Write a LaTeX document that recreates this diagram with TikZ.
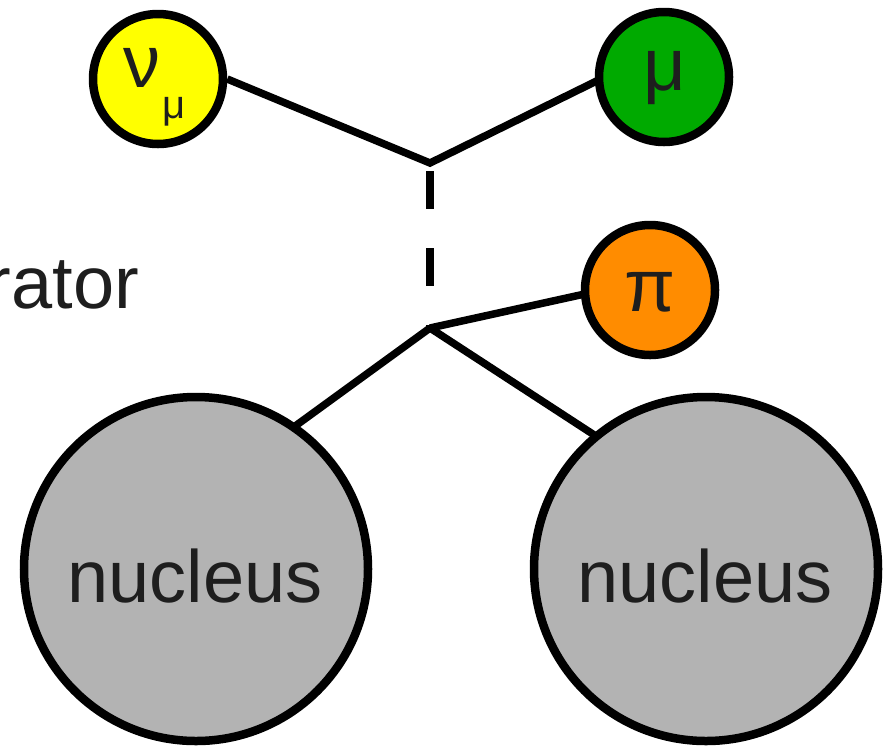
\documentclass[tikz,border=0pt]{standalone}
\usepackage{fontspec}
\setmainfont{Liberation Sans}
\usetikzlibrary{calc}
\pgfdeclarelayer{bg}
\pgfsetlayers{bg,main}
\definecolor{txt}{HTML}{1E1E1E}
\definecolor{nuyellow}{HTML}{FFFF00}
\definecolor{mugreen}{HTML}{00AA00}
\definecolor{piorange}{HTML}{FF8C00}
\definecolor{nucgray}{HTML}{B3B3B3}
\tikzset{
  particle/.style={circle, draw=black, line width=8.5pt, inner sep=0pt, minimum size=130pt},
  nucball/.style={circle, draw=black, line width=8.5pt, inner sep=0pt, minimum size=344pt, fill=nucgray},
  lbl/.style={text=txt, inner sep=0pt, anchor=base, font=\fontsize{74}{80}\selectfont},
  sublbl/.style={text=txt, inner sep=0pt, anchor=base, font=\fontsize{40}{44}\selectfont},
  leg/.style={line width=7.5pt, shorten >=-6pt},
  propagator/.style={line width=8.5pt, dash pattern=on 38pt off 39pt, dash phase=69pt}
}
\begin{document}
\begin{tikzpicture}[x=1pt,y=-1pt]
\clip (0,0) rectangle (893,748);
% particles
\node[particle, fill=nuyellow] (nu) at (158,79) {};
\node[particle, fill=mugreen] (mu) at (664,77) {};
\node[particle, fill=piorange] (pi) at (650,290) {};
\node[nucball] (nl) at (196,569) {};
\node[nucball] (nr) at (706,569) {};
% vertices
\coordinate (v1) at (430,163);
\coordinate (v2) at (430,328);
\begin{pgfonlayer}{bg}
\fill[white] (0,0) rectangle (893,748);
\draw[leg, line join=miter] (nu.0) -- (v1) -- (mu.184);
\draw[propagator] (v1) -- (v2);
\draw[leg] (v2) -- (pi.184);
\draw[leg] (v2) -- (nl.55);
\draw[leg] (v2) -- (nr.130);
\end{pgfonlayer}
% labels
\node[lbl] (nutxt) at (142,87) {ν};
\node[sublbl] (nusub) at (174,118) {μ};
\node[lbl] (mutxt) at (665,90) {μ};
\node[lbl] (pitxt) at (650,311) {π};
\node[lbl] (nltxt) at (195,602) {nucleus};
\node[lbl] (nrtxt) at (705,602) {nucleus};
\node[lbl, anchor=base east] (acc) at (139,308) {rator};
\end{tikzpicture}
\end{document}
